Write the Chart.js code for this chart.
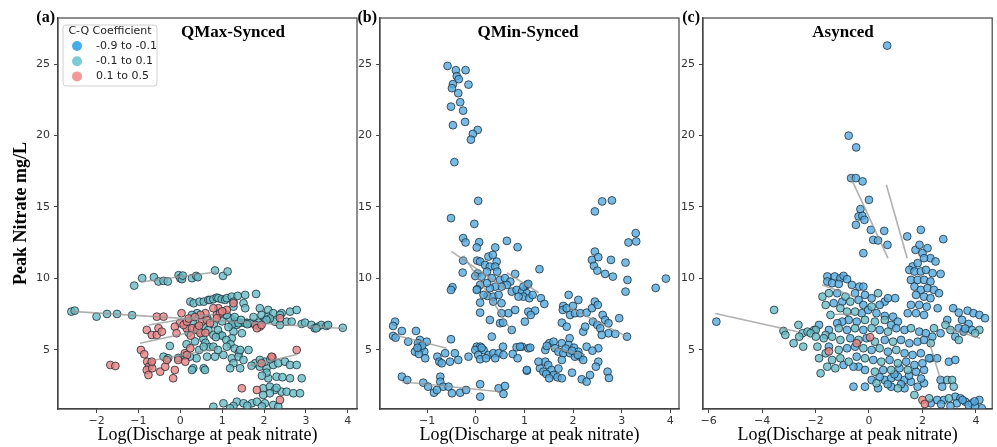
<!DOCTYPE html>
<html>
<head>
<meta charset="utf-8">
<script src="https://cdn.jsdelivr.net/npm/chart.js@4.4.1/dist/chart.umd.min.js"></script>
<style>
  body { margin: 0; background: #fff; width: 997px; height: 447px; overflow: hidden; position: relative; }
  canvas { position: absolute; top: 0; }
</style>
</head>
<body>
<canvas id="chartA" width="362" height="447" style="left:0px"></canvas>
<canvas id="chartB" width="333" height="447" style="left:357px"></canvas>
<canvas id="chartC" width="318" height="447" style="left:679px"></canvas>
<script>
// --- data: [log discharge, peak nitrate] ---
const legendLabels = ["-0.9 to -0.1", "-0.1 to 0.1", "0.1 to 0.5"];
const legendColors = ["#45aee8", "#7ccad4", "#f29a9a"];
const yTicks = [5, 10, 15, 20, 25];

// (a) QMax-Synced
const qmaxBlue = [[2.02,7.1],[1.3,7.05]];
const qmaxTeal = [
  [-1.10,9.5],[-0.91,10.02],[-0.63,10.09],[-0.52,9.79],[-0.40,9.83],[-0.30,9.79],[-0.04,10.23],[0.0,10.02],[0.04,9.95],[0.06,10.2],[0.28,10.02],[0.38,10.18],[0.42,10.09],[0.83,10.56],[1.02,10.18],[1.13,10.49],
  [-2.6,7.68],[-2.52,7.75],[-2.0,7.33],[-1.75,7.52],[-1.51,7.52],[-1.15,7.43],
  [2.9,6.82],[2.98,6.91],[3.13,6.75],[3.21,6.52],[3.29,6.63],[3.37,6.75],[3.49,6.68],[3.53,6.75],[3.25,6.52],[3.88,6.55],
  [0.24,8.38],[0.32,8.27],[0.46,8.38],[0.56,8.38],[0.67,8.5],[0.71,8.5],[0.79,8.55],[0.87,8.66],[0.91,8.62],[0.99,8.55],[1.07,8.5],[1.11,8.62],[1.23,8.73],[1.27,8.38],[1.37,8.78],[1.51,8.27],[1.55,8.85],[1.81,8.92],
  [1.9,7.92],[2.10,7.8],[1.94,7.45],[2.10,7.33],[2.22,7.57],[2.42,7.57],[2.62,7.68],[2.78,7.8],[2.26,6.98],[2.54,6.98],[2.38,6.75],[2.66,6.98],[2.38,7.45],[2.14,7.2],[1.55,7.92],[1.27,8.03],[1.02,7.68],[0.40,7.57],[0.28,7.45],
  [1.27,6.91],[1.43,6.91],[1.59,6.91],[1.75,6.87],[1.87,6.91],[1.19,7.22],[1.35,6.75],[2.06,7.1],
  [0.56,6.63],[0.67,6.4],[0.79,6.05],[0.95,6.05],[1.23,6.75],[1.39,6.87],[1.55,6.87],[1.67,6.87],[1.27,6.28],[1.23,5.82],[1.47,6.17],[1.11,7.45],[0.3,6.9],[0.4,6.6],[0.5,6.2],[0.55,5.8],[0.6,5.5],[0.7,5.2],[0.45,5.0],[0.35,5.6],[0.2,6.2],[0.65,7.2],[0.8,6.8],[0.9,6.4],[1.0,6.0],[1.1,5.7],[1.2,5.4],[1.3,5.1],[1.4,4.8],[0.85,5.9],[1.0,7.0],[1.15,6.6],[1.3,7.3],[1.45,7.1],[1.6,6.8],[1.75,7.3],[0.15,5.4],[-0.25,5.28],
  [0.56,5.23],[0.79,5.23],[0.64,4.53],[0.83,4.53],[1.03,4.65],[1.23,4.42],[1.39,4.53],[1.51,4.3],[1.27,4.07],[1.43,3.72],[1.63,5.0],[1.43,5.0],[1.11,5.23],[0.56,3.72],[0.31,3.72],[0.59,3.6],[0.39,4.42],[0.23,4.53],[-0.40,4.53],[-0.29,4.42],[-0.05,4.44],[0.28,3.6],[1.19,3.72],[0.1,4.6],[0.9,5.0],
  [1.79,4.07],[1.9,3.83],[2.06,3.72],[2.22,3.95],[2.34,4.07],[2.5,4.18],[2.62,3.95],[2.78,3.95],[2.02,4.18],[1.9,4.3],[2.1,3.02],[2.3,3.13],[2.44,3.09],[2.62,3.02],[2.9,3.02],[2.06,3.41],[1.95,3.2],[1.7,3.9],[2.15,4.35],
  [1.98,2.32],[2.14,2.43],[2.26,2.2],[2.42,2.08],[2.54,2.08],[2.7,1.97],[2.86,1.97],[2.14,1.97],[1.98,1.85],[2.3,2.35],
  [0.79,1.03],[1.03,1.27],[1.35,1.38],[1.51,1.27],[1.71,1.27],[1.83,1.38],[2.02,1.27],[2.22,1.15],[2.34,1.03],[1.27,1.08],[1.19,0.92],[1.6,1.1],[1.95,1.05]
];
const qmaxRed = [
  [-0.56,7.33],[-0.40,7.33],[0.03,7.57],[-0.01,6.87],[0.15,6.52],[-0.13,6.63],[-0.09,6.17],[-0.80,6.4],[-0.68,6.05],[-0.56,6.05],[-0.52,6.52],[-0.44,6.28],[0.08,6.75],[0.16,6.98],[0.28,6.52],[0.52,6.98],[0.63,7.1],[0.71,6.87],[0.87,7.45],[0.91,7.92],[1.11,7.8],[1.27,8.27],[0.6,7.57],[0.4,6.4],[0.48,6.17],[0.79,7.92],[0.95,7.57],[0.87,7.22],[1.79,6.75],[1.9,6.63],[1.83,6.52],[1.94,6.75],[2.38,7.22],[0.48,7.45],[0.2,7.2],[0.35,7.3],[1.0,7.7],[0.25,6.0],[0.6,6.2],[0.45,6.7],
  [-0.94,5.0],[-0.86,4.70],[-0.70,4.07],[-0.79,4.18],[-0.75,3.83],[-0.80,3.6],[-0.76,3.25],[-0.67,3.72],[-0.48,3.48],[-0.36,3.83],[-0.13,3.6],[-0.17,3.02],[-0.68,4.18],[-0.32,4.3],[-0.05,4.3],[0.11,4.77],[0.16,4.65],[0.24,5.12],[0.12,4.18],[-1.67,3.95],[-1.55,3.88],
  [1.94,4.07],[2.2,4.49],[1.47,2.32],[1.83,2.2],[2.38,1.5],[2.78,5.0],[2.18,4.53]
];
const qmaxLines = [[-0.95,9.75,0.85,10.45],[-2.6,7.7,3.9,6.5],[-0.96,5.47,0.5,6.4],[-0.76,6.75,0.8,7.5],[-0.6,4.3,0.9,5.1],[1.6,3.85,2.8,4.7]];

// (b) QMin-Synced
const qminBlue = [
  [-0.58,24.87],[-0.41,24.57],[-0.21,24.57],[-0.39,24.15],[-0.35,23.94],[-0.47,23.59],[-0.49,23.31],[-0.15,23.56],[-0.36,22.96],[-0.32,22.33],[-0.51,22.02],[-0.26,21.74],[-0.22,20.95],[-0.47,20.72],[0.04,20.39],[-0.06,20.11],[-0.1,19.71],[-0.44,18.14],[0.05,15.43],[-0.51,14.22],
  [-0.03,13.82],[-0.26,12.82],[-0.21,12.52],[0.07,12.54],[0.02,12.17],[0.4,12.17],[0.64,12.63],[0.86,12.19],[1.31,10.65],[-0.26,11.25],[-0.27,10.41],[0.03,11.25],[0.09,11.18],[0.26,11.53],[0.35,11.65],[0.43,11.18],[0.19,10.95],[0.29,10.83],[0.4,10.83],[0.44,10.48],[0.04,10.36],[-0.01,10.17],[0.12,10.13],[0.23,10.48],[0.33,10.02],[0.5,9.9],[0.6,10.02],[0.71,9.78],[0.81,10.32],[0.64,9.55],[0.53,9.43],[0.4,9.43],[0.29,9.32],[0.23,9.67],[0.09,9.55],[0.03,9.25],[0.24,8.78],[0.16,8.85],[0.09,8.31],[0.36,8.73],[0.47,8.85],[0.36,8.38],[0.53,8.27],[0.74,9.08],[0.84,9.2],[0.95,9.08],[1.05,8.97],[0.98,8.73],[0.88,8.73],[1.05,9.55],[0.81,7.8],[0.67,7.57],[0.53,7.57],[0.29,7.1],[0.5,6.87],[0.56,6.91],[0.74,6.4],[1.01,6.98],[1.08,7.68],[0.09,7.61],[-0.48,9.39],[-0.51,9.2],[0.02,9.2],[0.33,5.93],[0.98,9.43],[1.1,8.62],[1.08,9.62],[1.17,8.85],[1.34,8.62],[1.41,8.22],[1.22,7.75],[1.13,7.45],
  [-1.66,6.98],[-1.7,6.68],[-1.7,5.98],[-1.65,5.86],[-1.52,6.33],[-1.23,6.33],[-1.39,5.58],[-1.15,5.7],[-1.19,5.47],[-1.25,4.88],[-1.13,5.12],[-1.06,4.88],[-1.01,5.58],[-1.17,4.72],[-1.04,4.42],[-0.79,4.53],[-0.75,4.18],[-0.7,4.07],[-0.63,4.77],[-0.53,4.18],[-0.43,4.77],[-0.51,5.75],[-0.36,4.3],[-0.15,4.53],[-1.1,5.3],[-1.2,5.15],
  [0.02,5.23],[0.09,5.23],[-0.01,5.0],[0.16,5.0],[0.05,4.65],[0.09,4.35],[0.26,4.65],[0.36,4.77],[0.47,4.77],[0.4,4.42],[0.56,5.23],[0.57,4.65],[0.76,4.72],[0.86,4.42],[0.84,5.19],[0.95,5.23],[1.08,5.12],[1.05,3.55],[0.21,4.42],[0.12,5.15],
  [-1.52,3.13],[-1.41,2.9],[-1.08,2.71],[-0.98,2.43],[-0.86,2.01],[-0.73,3.13],[-0.73,2.78],[-0.67,2.43],[-0.56,2.43],[-0.49,1.97],[-0.32,2.01],[-0.2,2.2],[0.09,2.6],[0.09,1.73],[0.47,2.32],[0.6,2.48],[0.57,1.92],[-0.8,2.2],
  [2.45,14.69],[2.6,15.39],[2.8,15.46],[3.29,13.17],[3.14,12.52],[3.3,12.59],[2.45,11.88],[2.39,11.3],[2.52,11.49],[2.43,10.88],[2.5,10.55],[2.78,11.3],[3.08,11.11],[2.66,10.32],[2.82,10.13],[3.12,9.9],[3.08,9.08],[3.7,9.34],[3.91,9.99],
  [1.91,8.85],[1.8,8.08],[1.79,7.8],[1.87,7.92],[2.0,8.08],[2.11,8.5],[1.94,7.45],[2.04,7.57],[2.15,7.57],[1.77,6.91],[1.87,6.63],[2.28,7.61],[2.39,7.92],[2.45,8.38],[2.51,8.15],[2.61,7.45],[2.41,6.98],[2.5,6.75],[2.56,6.52],[2.66,7.1],[2.73,6.87],[2.73,6.17],[2.87,6.12],[2.95,7.22],[3.11,5.93],[2.59,6.05],[2.21,6.28],[2.25,6.63],
  [1.51,5.47],[1.6,5.58],[1.77,5.47],[1.93,5.82],[1.91,5.35],[2.02,5.16],[2.11,4.88],[2.15,4.53],[2.21,4.3],[2.28,5.23],[2.52,5.12],[2.52,4.18],[2.47,3.83],[2.71,3.48],[2.74,3.04],[2.18,2.95],[2.28,2.78],[2.35,3.25],[1.98,3.41],[1.43,5.0],[1.46,5.28],[1.63,5.12],[1.7,4.88],[1.8,4.77],[1.94,4.77],[2.04,4.53],[1.77,4.3],[1.43,4.18],[1.49,3.95],[1.32,3.72],[1.39,3.48],[1.56,3.6],[1.6,3.25],[1.45,3.32],[1.51,3.02],[1.68,3.09],[1.77,3.02],[1.29,4.18],[1.05,3.6],[1.12,5.16],[0.91,5.23],[1.85,5.1],[1.98,4.95],[2.1,4.65],[2.4,4.95],[1.7,3.7]
];
const qminLines = [[-1.66,6.05,-0.6,5.12],[-1.52,2.78,0.5,2.08],[-0.5,11.9,0.6,9.3],[-0.25,11.6,0.72,6.4],[0.64,10.4,1.3,9.0],[1.9,8.0,3.1,5.95],[1.46,5.23,2.25,4.65]];

// (c) Asynced
const asyncBlue = [
  [-5.71,6.98],[0.68,26.29],[-0.76,19.99],[-0.48,19.17],[-0.67,17.02],[-0.49,17.02],[-0.24,16.79],[0,15.5],[-0.32,14.85],[-0.39,14.34],[-0.25,14.38],[-0.17,14.1],[-0.49,13.75],[0.07,13.4],[0.57,13.33],[0.16,12.7],[0.34,12.66],[0.69,12.35],[-0.21,11.77],
  [1.43,12.94],[1.94,13.4],[2.78,12.75],[1.74,12.0],[1.89,12.35],[2.19,12.12],[2.0,11.77],[2.3,11.42],[2.49,11.19],[2.06,11.42],[1.63,10.84],[1.82,11.07],[1.51,10.6],[1.7,10.49],[1.94,10.49],[2.13,10.6],[2.38,10.37],[2.68,10.32],[1.57,9.9],[1.82,9.9],[2.06,9.9],[2.3,9.79],[1.7,9.43],[1.94,9.2],[2.19,9.32],[2.43,9.2],[2.62,8.97],[1.76,8.85],[2.06,8.73],[2.3,8.62],[1.57,8.15],[1.88,8.15],[2.16,8.03],[2.57,7.92],[1.45,7.57],[1.76,7.57],[2.06,7.45],[0.98,8.62],
  [3.15,7.92],[3.36,7.61],[3.69,7.75],[3.91,7.57],[4.13,7.45],[4.34,7.22],[3.48,7.1],[3.73,6.82],[3.36,6.52],[3.54,6.28],[3.85,6.4],[3.23,5.93],[2.68,6.17],[2.93,7.1],[3.6,6.5],
  [2.99,4.18],[3.23,4.3],[2.31,4.42],[2.55,4.42],[2.68,2.9],[2.74,2.43],[2.8,1.5],[3.23,1.73],[3.42,1.62],[3.6,1.38],[3.85,1.27],[4.13,1.5],[4.22,0.92],[3.73,1.15],[3.97,1.03],[3.29,1.27],[3.05,1.08],[2.55,1.5],[2.31,1.27],[3.5,1.5],[3.95,1.4],[2.7,1.2],
  [-0.58,2.43],[-0.15,2.43],[0.1,2.9],[0.59,2.9],[0.83,3.02],[1.08,3.13],[1.33,2.9],[1.57,2.78],[1.82,2.43],[2.06,2.67],[0.83,2.43],[1.33,2.32],[0.34,2.32],[0.53,3.6],[1.14,3.72],[1.76,3.48],[2.06,3.6],[-0.15,3.6],[-0.39,3.83],[-0.58,3.83],[0.7,2.6],[1.2,2.6],[1.5,3.2],[1.95,3.0],[0.4,3.1],[0.95,3.3],
  [-1.56,10.14],[-1.56,9.79],[-1.28,10.14],[-1.07,10.02],[-0.95,10.18],[-0.82,9.95],[-1.38,9.67],[-1.13,9.62],[-0.36,9.43],[-0.21,9.43],[-0.64,9.55],[-1.19,8.97],[-0.52,8.97],[-0.15,8.85],[0.1,8.62],[0.59,8.38],[0.71,8.62],[-1.0,8.38],[-0.39,8.5],[-0.21,8.15],[0.4,8.15],[-1.32,8.27],[-0.27,7.57],[-0.03,7.8],[0.28,7.57],[0.59,7.38],[0.9,7.33],[1.08,6.98],[0.83,6.75],[-0.46,6.98],[-0.76,7.1],[-1.0,6.98],[-1.19,6.87],[-1.87,6.75],[-1.5,6.4],[-0.82,6.4],[-0.21,6.4],[0.4,6.4],[1.02,6.52],[1.33,6.4],[1.88,6.28],[2.13,6.17],[2.37,5.93],[-0.7,5.82],[-0.09,5.82],[0.59,5.7],[1.2,5.7],[1.51,5.47],[1.82,5.58],[2.06,5.7],[-1.5,5.23],[-0.82,5.12],[-0.52,5.23],[0.1,5.0],[0.71,4.88],[1.33,4.77],[1.63,4.65],[1.94,4.77],[2.25,4.42],[-0.46,4.53],[0.16,4.3],[0.77,4.3],[1.39,4.18],[1.7,3.95],[2.0,4.07],[-0.95,3.95]
];
const asyncTeal = [
  [-3.55,7.8],[-3.2,6.33],[-3.13,6.05],[-2.82,5.47],[-2.64,6.75],[-2.49,6.17],[-2.46,5.23],[-2.3,6.28],[-2.05,6.4],[-1.93,5.23],[-1.62,6.05],[-2.61,5.93],[-1.99,6.4],[-2.18,6.17],[-1.99,5.93],[-1.69,5.82],[-1.38,5.93],[-1.87,4.42],[-1.62,4.77],[-1.38,4.3],[-1.81,3.37],[-1.56,3.83],[-1.26,3.72],[-1.07,4.42],[-0.76,4.18],
  [-1.74,8.73],[-1.5,8.97],[-1.62,8.15],[-1.44,7.45],[-1.07,7.92],[-0.82,7.68],[-0.52,7.68],[-0.15,7.1],[0.22,6.98],[0.59,7.1],[-1.13,6.52],[-0.52,6.52],[0.1,6.52],[0.71,6.28],[-1.07,5.7],[-0.39,5.7],[0.22,5.58],[0.9,5.58],[-1.13,5.0],[-0.21,5.12],[0.4,5.12],[1.02,5.0],[-0.15,4.42],[0.46,4.18],[1.08,4.07],[0.22,3.48],[0.83,3.6],[1.45,3.6],[0.28,2.67],[1.08,2.32],[1.7,1.85],[2.25,1.62],
  [2.31,5.47],[1.57,6.52],[2.43,6.52],[2.86,6.75],[3.05,6.4],[4.13,6.4],[3.97,6.17],[3.36,5.7],[2.93,2.9],[3.11,2.9],[3.17,2.43],[2.99,1.62],[0.34,8.97],[-0.88,8.73],[-0.7,8.38],[0.1,8.03]
];
const asyncRed = [[0.04,5.89],[-0.46,5.47],[2.0,1.5],[2.09,1.22],[-1.5,4.9]];
const asyncLines = [[-5.75,7.55,-2.67,6.28],[-0.7,17.14,0.71,11.42],[0.65,16.55,1.43,11.42],[2.25,5.6,2.68,2.9],[2.93,6.52,4.16,5.82],[-1.75,9.55,-0.5,8.7],[-1.3,7.5,-0.6,7.5]];

// --- helpers ---
const toXY = arr => arr.map(p => ({ x: p[0], y: p[1] }));
const minus = v => String(v).replace('-', '\u2212');

function pointSet(data, fill) {
  return {
    type: 'scatter', data: toXY(data),
    backgroundColor: fill, borderColor: 'rgba(25,40,50,0.85)',
    borderWidth: 0.9, pointRadius: 3.9, pointHoverRadius: 3.9
  };
}
function lineSets(lines) {
  return lines.map(l => ({
    type: 'line', data: [{ x: l[0], y: l[1] }, { x: l[2], y: l[3] }],
    borderColor: 'rgba(150,150,150,0.75)', borderWidth: 1.6, pointRadius: 0, showLine: true, fill: false
  }));
}

// panel text, frame and legend
const panelDeco = {
  id: 'panelDeco',
  afterDraw(chart, args, opts) {
    const ctx = chart.ctx, a = chart.chartArea;
    ctx.save();
    ctx.strokeStyle = '#444';
    ctx.lineWidth = 1.2;
    ctx.strokeRect(a.left, a.top, a.right - a.left, a.bottom - a.top);
    ctx.fillStyle = '#000';
    ctx.font = 'bold 16px "Liberation Serif"';
    ctx.textAlign = 'right';
    ctx.textBaseline = 'alphabetic';
    ctx.fillText(opts.label, a.left - 3, a.top + 4);
    ctx.font = 'bold 17px "Liberation Serif"';
    ctx.textAlign = 'center';
    ctx.fillText(opts.title, a.left + opts.titleX, a.top + 19);
    if (opts.legend) {
      const x0 = a.left + 5, y0 = a.top + 7, w = 94, h = 61;
      ctx.fillStyle = 'rgba(255,255,255,0.85)';
      ctx.strokeStyle = '#d0d0d0';
      ctx.lineWidth = 1;
      ctx.beginPath();
      ctx.roundRect(x0, y0, w, h, 3);
      ctx.fill();
      ctx.stroke();
      ctx.fillStyle = '#222';
      ctx.font = '11px "DejaVu Sans"';
      ctx.textBaseline = 'middle';
      ctx.textAlign = 'center';
      ctx.fillText('C-Q Coefficient', x0 + w / 2, y0 + 6.5);
      legendLabels.forEach((t, i) => {
        const cy = y0 + 21 + i * 15.2;
        ctx.fillStyle = legendColors[i];
        ctx.beginPath();
        ctx.arc(x0 + 14, cy, 5, 0, Math.PI * 2);
        ctx.fill();
        ctx.fillStyle = '#222';
        ctx.textAlign = 'left';
        ctx.fillText(t, x0 + 33, cy);
      });
    }
    ctx.restore();
  }
};

function makePanel(id, cfg) {
  const datasets = lineSets(cfg.lines).concat([
    pointSet(cfg.red, 'rgba(232,130,130,0.8)'),
    pointSet(cfg.teal, 'rgba(105,188,196,0.8)'),
    pointSet(cfg.blue, 'rgba(85,170,222,0.8)')
  ]);
  new Chart(document.getElementById(id), {
    type: 'scatter',
    data: { datasets },
    options: {
      responsive: false, animation: false, devicePixelRatio: 1, events: [],
      layout: { padding: { top: 18, right: cfg.padRight, left: 0, bottom: 0 } },
      plugins: {
        legend: { display: false }, tooltip: { enabled: false },
        panelDeco: { label: cfg.label, title: cfg.title, titleX: cfg.titleX, legend: cfg.legend }
      },
      scales: {
        x: {
          type: 'linear', min: cfg.xMin, max: cfg.xMax,
          afterFit: s => { s.height = 38; },
          grid: { drawOnChartArea: false, tickLength: 4, color: '#444' },
          border: { color: '#444', width: 1.2 },
          ticks: { stepSize: cfg.xStep, includeBounds: false, padding: 2, color: '#333',
                   font: { family: 'DejaVu Sans', size: 11 }, callback: minus },
          title: { display: true, text: 'Log(Discharge at peak nitrate)', color: '#000',
                   font: { family: 'Liberation Serif', size: 18 }, padding: { top: 0, bottom: 1 } }
        },
        y: {
          type: 'linear', min: 0.87, max: 28.22,
          afterFit: s => { s.width = cfg.yWidth; },
          afterBuildTicks: s => { s.ticks = yTicks.map(v => ({ value: v })); },
          grid: { drawOnChartArea: false, tickLength: 4, color: '#444' },
          border: { color: '#444', width: 1.2 },
          ticks: { padding: 4, color: '#333', font: { family: 'DejaVu Sans', size: 11 } },
          title: { display: cfg.yTitle, text: 'Peak Nitrate mg/L', color: '#000',
                   font: { family: 'Liberation Serif', size: 18, weight: 'bold' }, padding: { top: 11, bottom: 0 } }
        }
      }
    },
    plugins: [panelDeco]
  });
}

makePanel('chartA', { blue: qmaxBlue, teal: qmaxTeal, red: qmaxRed, lines: qmaxLines,
  xMin: -2.92, xMax: 4.22, xStep: 1, yWidth: 58, padRight: 5, yTitle: true,
  label: '(a)', title: 'QMax-Synced', titleX: 175, legend: true });
makePanel('chartB', { blue: qminBlue, teal: [], red: [], lines: qminLines,
  xMin: -1.97, xMax: 4.18, xStep: 1, yWidth: 23, padRight: 11, yTitle: false,
  label: '(b)', title: 'QMin-Synced', titleX: 148, legend: false });
makePanel('chartC', { blue: asyncBlue, teal: asyncTeal, red: asyncRed, lines: asyncLines,
  xMin: -6.21, xMax: 4.61, xStep: 2, yWidth: 24, padRight: 2, yTitle: false,
  label: '(c)', title: 'Asynced', titleX: 140, legend: false });
</script>
</body>
</html>
